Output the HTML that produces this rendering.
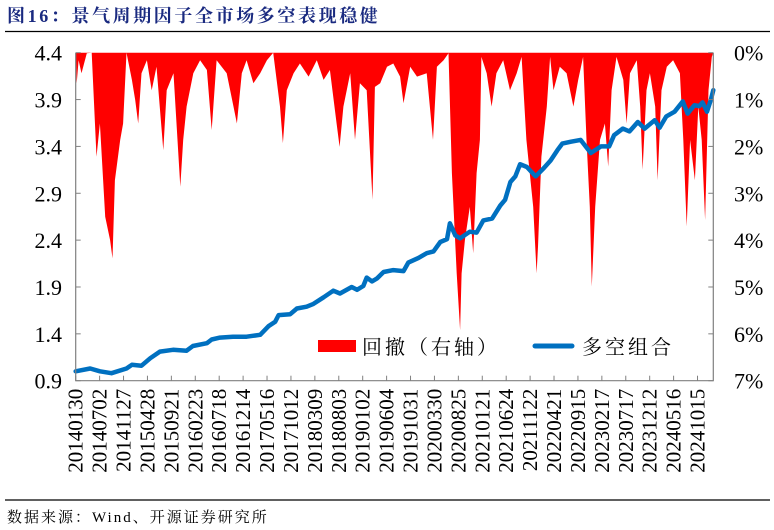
<!DOCTYPE html>
<html><head><meta charset="utf-8"><style>
body{margin:0;background:#fff;width:774px;height:530px;overflow:hidden;font-family:"Liberation Serif","Noto Serif CJK SC",serif;}
svg{position:absolute;left:0;top:0}
</style></head><body>
<svg id="chart" width="774" height="530" viewBox="0 0 774 530" xmlns="http://www.w3.org/2000/svg">
<text x="7" y="22" font-family="'Liberation Serif','Noto Serif CJK SC',serif" font-weight="bold" font-size="18" fill="#1a2a80" letter-spacing="2.6">图16：景气周期因子全市场多空表现稳健</text>
<line x1="5" y1="31.5" x2="770" y2="31.5" stroke="#000" stroke-width="1.2"/>
<g id="plot"></g>
<g>
<rect x="318" y="340" width="38" height="12" fill="#ff0000"/>
<text x="362" y="354" font-family="'Noto Serif CJK SC',serif" font-size="20" fill="#000" letter-spacing="3">回撤（右轴）</text>
<line x1="535" y1="346" x2="572" y2="346" stroke="#0070c0" stroke-width="5" stroke-linecap="round"/>
<text x="582" y="354" font-family="'Noto Serif CJK SC',serif" font-size="20" fill="#000" letter-spacing="3">多空组合</text>
</g>
<line x1="5" y1="500" x2="770" y2="500" stroke="#000" stroke-width="1.2"/>
<text x="7" y="522" font-family="'Liberation Serif','Noto Serif CJK SC',serif" font-size="15" fill="#000" letter-spacing="2">数据来源：Wind、开源证券研究所</text>
</svg>
<script>
// data (months since 2014-01-30)
const xLabels=["20140130","20140702","20141127","20150428","20150921","20160223","20160718","20161214","20170516","20171012","20180309","20180803","20190102","20190604","20191031","20200330","20200825","20210121","20210624","20211122","20220421","20220915","20230217","20230717","20231212","20240516","20241015"];
const leftTicks=[0.9,1.4,1.9,2.4,2.9,3.4,3.9,4.4];
const rightTicks=[0,1,2,3,4,5,6,7];
const lineT=[0,3.0,5.0,7.4,10.5,11.6,13.6,15.4,17.4,20.1,22.9,24.2,27.1,28.1,29.8,32.5,35.3,38.1,39.8,41.2,41.9,44.3,45.7,47.7,49.1,51.2,53.2,54.6,57.0,58.1,59.4,60.1,61.2,62.2,63.6,65.6,67.7,68.7,70.8,72.5,73.9,75.3,76.7,77.3,78.4,79.4,81.4,82.8,84.2,86.0,87.7,88.7,89.8,90.8,91.8,93.2,95.0,96.7,98.1,99.5,100.5,102.3,104.3,106.4,108.5,110.2,111.2,113.0,114.4,116.1,117.5,119.6,120.6,122.0,123.7,125.4,126.4,127.8,128.8,129.5,130.4,131.2,131.7];
const lineV=[1.0,1.03,1.0,0.98,1.03,1.07,1.06,1.14,1.21,1.23,1.22,1.27,1.30,1.34,1.36,1.37,1.37,1.39,1.48,1.53,1.60,1.61,1.67,1.69,1.72,1.79,1.86,1.83,1.90,1.87,1.91,2.00,1.96,1.99,2.06,2.08,2.07,2.16,2.21,2.26,2.28,2.38,2.41,2.58,2.45,2.42,2.49,2.48,2.61,2.63,2.77,2.83,3.02,3.08,3.21,3.18,3.08,3.17,3.25,3.36,3.43,3.45,3.47,3.33,3.40,3.40,3.52,3.59,3.56,3.66,3.59,3.68,3.60,3.72,3.77,3.88,3.75,3.84,3.83,3.87,3.77,3.90,4.00];
const ddT=[0,0.2,0.6,1.2,2.3,3.3,4.3,5.0,6.1,7.1,7.6,8.1,9.2,9.8,10.5,11.6,12.3,12.9,13.6,14.7,15.7,16.7,18.1,18.8,20.2,21.6,22.2,22.9,24.3,25.7,27.1,28.1,29.1,31.2,32.6,33.3,34.3,35.3,36.7,38.1,39.5,40.8,42.2,42.8,43.6,45.0,46.3,48.1,49.8,51.2,52.5,53.9,54.5,55.3,56.7,57.7,58.7,60.1,61.3,61.8,62.9,64.3,65.6,67.0,67.7,69.1,70.5,72.5,73.8,74.6,76.0,77.0,77.7,78.7,79.4,79.7,80.4,81.4,82.1,82.8,83.5,83.8,84.9,85.9,86.9,88.3,89.7,91.1,92.1,93.1,94.5,95.2,95.5,96.2,97.3,98.0,98.7,100.0,101.4,102.8,103.8,104.8,105.5,106.2,106.6,107.3,108.3,109.3,110.0,110.7,111.7,113.1,113.8,114.5,115.9,116.6,117.1,117.9,118.6,119.7,120.2,121.0,122.1,123.4,124.8,125.5,126.2,126.9,127.9,128.6,129.3,130.0,130.7,131.4,131.7];
const ddV=[0,0.65,0.16,0.44,0.01,0,2.22,1.51,3.50,4.00,4.39,2.72,1.86,1.51,0,0.58,1.01,1.51,0.44,0.16,0.80,0.30,2.08,0.80,0.44,2.86,1.86,1.15,0.44,0.16,0.37,1.65,0.16,0.44,1.15,1.51,0.44,0.16,0.65,0.44,0.16,0,1.15,1.93,0.80,0.44,0.23,0.51,0.16,0.58,0.37,1.51,2.01,1.15,0.44,1.86,0.65,0.80,3.14,0.73,0.65,0.30,0.23,0.51,1.08,0.30,0.51,0.44,1.86,0.30,0.16,0.01,2.57,4.71,5.92,4.71,4.00,3.29,4.28,2.57,1.86,0.09,0.44,1.15,0.44,0.16,0.80,0.44,0.09,1.86,3.29,4.71,4.14,2.22,1.15,0.09,0.80,0.30,0.44,1.15,0.58,0.09,1.86,3.29,4.99,3.29,1.86,1.51,2.43,0.80,0.09,0.58,1.51,0.44,0.16,1.15,2.50,0.80,0.44,1.15,2.72,0.80,0.30,0.16,0.44,1.86,3.71,1.86,2.72,1.15,1.86,3.57,0.80,0.09,0];

const L=75.7,R=713.3,T=52.7,B=380.7,TMAX=131.7,LABEL_STEP=4.94;
const NS="http://www.w3.org/2000/svg";
const xs=t=>L+(t/TMAX)*(R-L);
const yl=v=>B-(v-0.9)/3.5*(B-T);
const yr=p=>T+p/7*(B-T);
const g=document.getElementById('plot');
function mk(tag,attrs){const e=document.createElementNS(NS,tag);for(const k in attrs)e.setAttribute(k,attrs[k]);g.appendChild(e);return e;}

let d="M"+xs(ddT[0])+","+yr(0);
for(let i=0;i<ddT.length;i++)d+=" L"+xs(ddT[i]).toFixed(1)+","+yr(ddV[i]).toFixed(1);
d+=" L"+xs(ddT[ddT.length-1])+","+yr(0)+"Z";
const area=mk('path',{d:d,fill:'#ff0000'});



let p="";
for(let i=0;i<lineT.length;i++)p+=(i?" L":"M")+xs(lineT[i]).toFixed(1)+","+yl(lineV[i]).toFixed(1);
const ln=mk('path',{d:p,fill:'none',stroke:'#0070c0','stroke-width':4.5,'stroke-linejoin':'round','stroke-linecap':'round'});



const ax=mk('path',{d:`M${L},${T} L${L},${B} L${R},${B} L${R},${T}`,fill:'none',stroke:'#808080','stroke-width':1.2});



leftTicks.forEach(v=>{
  const y=yl(v);
  const tk=mk('line',{x1:L,y1:y,x2:L+5,y2:y,stroke:'#808080','stroke-width':1});
  
  
  const tx=mk('text',{x:62,y:y+8,'text-anchor':'end','font-size':22,'font-family':"'Liberation Serif',serif",fill:'#000'});
  tx.textContent=v.toFixed(1);
  
  
});
rightTicks.forEach(v=>{
  const y=yr(v);
  const tk=mk('line',{x1:R-5,y1:y,x2:R,y2:y,stroke:'#808080','stroke-width':1});
  
  
  const tx=mk('text',{x:734,y:y+8,'font-size':22,'font-family':"'Liberation Serif',serif",fill:'#000'});
  tx.textContent=v+"%";
  
  
});
xLabels.forEach((lab,i)=>{
  const x=xs(i*LABEL_STEP);
  const tk=mk('line',{x1:x,y1:B,x2:x,y2:B-5,stroke:'#808080','stroke-width':1});
  
  
  const tx=mk('text',{x:0,y:0,'font-size':21,'font-family':"'Liberation Serif',serif",fill:'#000','text-anchor':'end',transform:`translate(${x+7},${B+8}) rotate(-90)`});
  tx.textContent=lab;
  
  
});
</script>
</body></html>
